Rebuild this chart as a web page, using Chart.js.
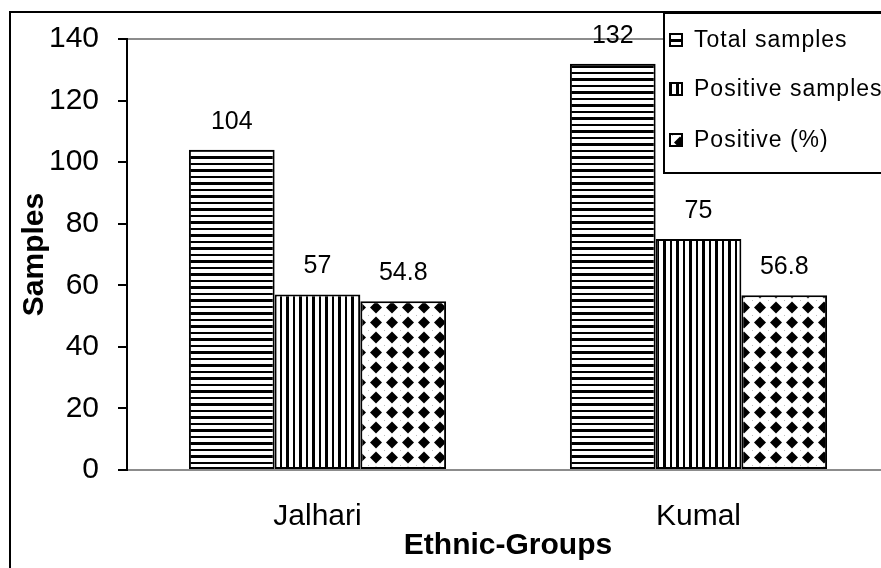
<!DOCTYPE html>
<html>
<head>
<meta charset="utf-8">
<script src="https://cdn.jsdelivr.net/npm/chart.js@4/dist/chart.umd.min.js"></script>
<style>
  html, body { margin: 0; padding: 0; background: #fff; overflow: hidden; }
  #wrap { width: 900px; height: 568px; position: relative; }
</style>
</head>
<body>
<div id="wrap"><canvas id="chart" width="900" height="568"></canvas></div>
<script>
// Samples per ethnic group
const groups = ['Jalhari', 'Kumal'];
const totalSamples = [104, 132];
const positiveSamples = [57, 75];
const positivePercent = [54.8, 56.8];
const seriesNames = ['Total samples', 'Positive samples', 'Positive (%)'];
const yTicks = [0, 20, 40, 60, 80, 100, 120, 140];

const FONT = "'Liberation Sans', Arial, sans-serif";

// Monochrome fill patterns
function makeTile(w, h, draw) {
  const c = document.createElement('canvas');
  c.width = w; c.height = h;
  const g = c.getContext('2d');
  g.fillStyle = '#fff';
  g.fillRect(0, 0, w, h);
  g.fillStyle = '#000';
  draw(g, w, h);
  return c;
}
const ctx0 = document.getElementById('chart').getContext('2d');
const hStripes = ctx0.createPattern(makeTile(8, 13, g => {
  g.fillRect(0, 0, 8, 3);
  g.fillRect(0, 7, 8, 2);
}), 'repeat');
const vStripes = ctx0.createPattern(makeTile(13, 8, g => {
  g.fillRect(0, 0, 3, 8);
  g.fillRect(7, 0, 2, 8);
}), 'repeat');
const diamonds = ctx0.createPattern(makeTile(16, 15, g => {
  g.beginPath();
  g.moveTo(8, 1.5); g.lineTo(14, 7.5); g.lineTo(8, 13.5); g.lineTo(2, 7.5); g.closePath();
  g.fill();
  g.fillStyle = '#bbb';
  g.fillRect(0, 0, 1, 1);
}), 'repeat');
const fills = [hStripes, vStripes, diamonds];

// Outer frame of the chart
const framePlugin = {
  id: 'frame',
  beforeDraw(chart) {
    const c = chart.ctx;
    c.save();
    c.fillStyle = '#fff';
    c.fillRect(0, 0, chart.width, chart.height);
    c.strokeStyle = '#000';
    c.lineWidth = 2;
    c.strokeRect(10, 12, chart.width + 20, chart.height + 20);
    c.restore();
  }
};

// Value labels above each bar
const valueLabels = {
  id: 'valueLabels',
  afterDatasetsDraw(chart) {
    const c = chart.ctx;
    c.save();
    c.font = '25px ' + FONT;
    c.fillStyle = '#000';
    c.textAlign = 'center';
    c.textBaseline = 'middle';
    chart.data.datasets.forEach((ds, i) => {
      chart.getDatasetMeta(i).data.forEach((bar, j) => {
        c.fillText(String(ds.data[j]), bar.x, bar.y - 28);
      });
    });
    c.restore();
  }
};

// Boxed legend in the top-right corner
const boxLegend = {
  id: 'boxLegend',
  afterDraw(chart) {
    const c = chart.ctx;
    const x0 = 664, y0 = 13, y1 = 173;
    c.save();
    c.fillStyle = '#fff';
    c.fillRect(x0, y0, chart.width - x0 + 10, y1 - y0);
    c.strokeStyle = '#000';
    c.lineWidth = 2;
    c.strokeRect(x0, y0, chart.width - x0 + 10, y1 - y0);
    c.font = '23px ' + FONT;
    if ('letterSpacing' in c) c.letterSpacing = '1px';
    c.textBaseline = 'middle';
    c.textAlign = 'left';
    const rows = [40, 89, 140];
    chart.data.datasets.forEach((ds, i) => {
      const cy = rows[i];
      c.fillStyle = ds.backgroundColor;
      c.fillRect(670, cy - 6, 12, 12);
      c.lineWidth = 2;
      c.strokeStyle = '#000';
      c.strokeRect(670, cy - 6, 12, 12);
      c.fillStyle = '#000';
      c.fillText(ds.label, 694, cy + 1);
    });
    c.restore();
  }
};

new Chart(document.getElementById('chart'), {
  type: 'bar',
  data: {
    labels: groups,
    datasets: [totalSamples, positiveSamples, positivePercent].map((d, i) => ({
      label: seriesNames[i],
      data: d,
      backgroundColor: fills[i],
      borderColor: '#000',
      borderWidth: 2,
      borderSkipped: false,
      categoryPercentage: 0.675,
      barPercentage: 1.0
    }))
  },
  options: {
    responsive: false,
    animation: false,
    events: [],
    layout: { padding: { left: 10, top: 39, right: 11, bottom: 0 } },
    plugins: { legend: { display: false }, tooltip: { enabled: false } },
    scales: {
      x: {
        grid: { display: true, drawOnChartArea: false, tickLength: 0, color: 'transparent' },
        border: { display: true, color: '#8c8c8c', width: 2 },
        ticks: { color: '#000', font: { family: FONT, size: 30 }, padding: 29 },
        title: {
          display: true, text: 'Ethnic-Groups', color: '#000',
          font: { family: FONT, size: 30, weight: 'bold' },
          padding: { top: 0, bottom: 4 }
        },
        afterFit(scale) { scale.height = 98; }
      },
      y: {
        min: 0, max: 140,
        afterBuildTicks(scale) { scale.ticks = yTicks.map(v => ({ value: v })); },
        grid: {
          drawOnChartArea: true,
          tickLength: 9,
          color: c => (c.tick && c.tick.value === 140 ? '#8c8c8c' : 'transparent'),
          tickColor: '#000',
          lineWidth: 2
        },
        border: { display: true, color: '#000', width: 2 },
        ticks: { color: '#000', font: { family: FONT, size: 30 }, padding: 19 },
        title: {
          display: true, text: 'Samples', color: '#000',
          font: { family: FONT, size: 30, weight: 'bold' },
          padding: { top: 7, bottom: 0 }
        },
        afterFit(scale) { scale.width = 117; }
      }
    }
  },
  plugins: [framePlugin, valueLabels, boxLegend]
});
</script>
</body>
</html>
